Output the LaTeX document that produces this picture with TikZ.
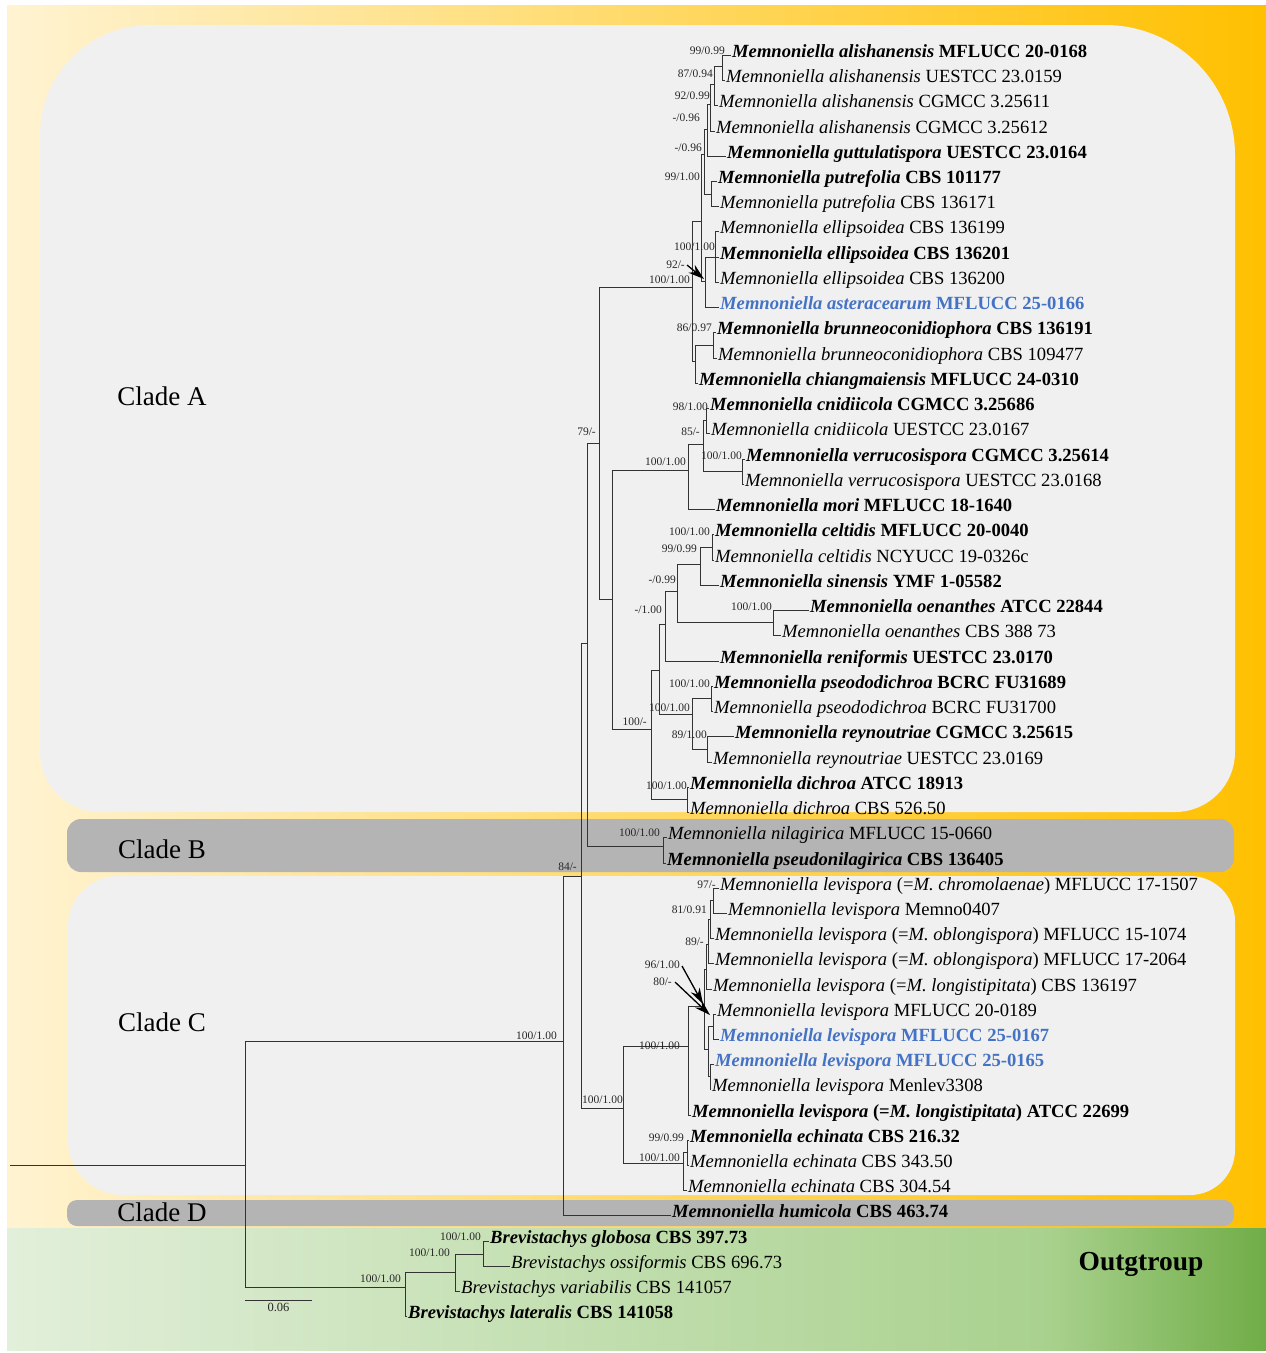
\documentclass[tikz,border=0pt]{standalone}
\usepackage{fontspec}
\setmainfont{Liberation Serif}
\usetikzlibrary{arrows.meta}
\definecolor{ylLeft}{HTML}{FFF3D2}
\definecolor{ylMid}{HTML}{FFE394}
\definecolor{ylRight}{HTML}{FFC000}
\definecolor{grLeft}{HTML}{E2EFDA}
\definecolor{grMid}{HTML}{A9D18E}
\definecolor{grRight}{HTML}{70AD47}
\definecolor{cladeBg}{HTML}{F0F0F0}
\definecolor{cladeBar}{HTML}{B4B4B4}
\definecolor{newTaxon}{HTML}{4472C4}
\newcommand\tx[2]{\textit{#1} #2}
\newcommand\txb[2]{\textbf{\textit{#1} #2}}
\newcommand\txn[2]{\textcolor{newTaxon}{\textbf{\textit{#1} #2}}}
\newcommand\syn[1]{(=\textit{#1})}
\newcommand\Mem{Memnoniella}
\newcommand\Bre{Brevistachys}
\tikzset{
	br/.style={draw=black!80, line width=0.9pt},
	tip/.style={anchor=west, inner sep=1.5pt, yshift=-4pt, text height=0.7em, text depth=0.22em, font=\fontsize{18.6}{20}\selectfont},
	sup/.style={anchor=east, inner sep=0pt, font=\fontsize{11.5}{12}\selectfont, text=black!85},
	cladelabel/.style={font=\fontsize{27}{30}\selectfont},
	supArrow/.style={line width=1.3pt, -{Stealth[length=16pt,width=10pt]}}
}
\begin{document}
\begin{tikzpicture}[x=1pt, y=-1pt]
	\useasboundingbox (0,0) rectangle (1266,1353);
	
	% backgrounds
	\shade[left color=ylLeft, middle color=ylMid, right color=ylRight] (7,5) rectangle (1266,1228);
	\shade[left color=grLeft, right color=grMid] (7,1228) rectangle (1050,1350);
	\shade[left color=grMid, right color=grRight] (1049.5,1228) rectangle (1266,1350);
	\fill[cladeBg] (40,135) arc[start angle=180, end angle=90, radius=110pt] -- (1105,25)
		arc[start angle=90, end angle=0, radius=130pt] -- (1235,752)
		arc[start angle=0, end angle=-90, radius=60pt] -- (100,812)
		arc[start angle=270, end angle=180, radius=60pt] -- cycle;
	\fill[cladeBar, rounded corners=14pt] (67,819) rectangle (1234,872);
	\fill[cladeBg] (68,926) arc[start angle=180, end angle=90, radius=50pt] -- (1190,876)
		arc[start angle=90, end angle=0, radius=45pt] -- (1235,1150)
		arc[start angle=0, end angle=-90, radius=45pt] -- (123,1195)
		arc[start angle=270, end angle=180, radius=55pt] -- cycle;
	\fill[cladeBar, rounded corners=10pt] (67,1200) rectangle (1234,1226);
	
	\node[cladelabel] (cladeA) at (162,396) {Clade A};
	\node[cladelabel] (cladeB) at (162,849) {Clade B};
	\node[cladelabel] (cladeC) at (162,1022) {Clade C};
	\node[cladelabel] (cladeD) at (162,1212) {Clade D};
	\node[cladelabel, font=\fontsize{27.5}{30}\selectfont\bfseries] (outgroup) at (1141,1264) {Outgtroup};
	
	% tips
	\node[tip] (t1) at (730.5,51) {\txb{\Mem\ alishanensis}{MFLUCC 20-0168}};
	\node[tip] (t2) at (724.5,76) {\tx{\Mem\ alishanensis}{UESTCC 23.0159}};
	\node[tip] (t3) at (717.5,101) {\tx{\Mem\ alishanensis}{CGMCC 3.25611}};
	\node[tip] (t4) at (714.5,127) {\tx{\Mem\ alishanensis}{CGMCC 3.25612}};
	\node[tip] (t5) at (725.5,152) {\txb{\Mem\ guttulatispora}{UESTCC 23.0164}};
	\node[tip] (t6) at (716.5,177) {\txb{\Mem\ putrefolia}{CBS 101177}};
	\node[tip] (t7) at (718.5,202) {\tx{\Mem\ putrefolia}{CBS 136171}};
	\node[tip] (t8) at (718.5,227) {\tx{\Mem\ ellipsoidea}{CBS 136199}};
	\node[tip] (t9) at (718.5,253) {\txb{\Mem\ ellipsoidea}{CBS 136201}};
	\node[tip] (t10) at (718.5,278) {\tx{\Mem\ ellipsoidea}{CBS 136200}};
	\node[tip] (t11) at (718.5,303) {\txn{\Mem\ asteracearum}{MFLUCC 25-0166}};
	\node[tip] (t12) at (715.5,328) {\txb{\Mem\ brunneoconidiophora}{CBS 136191}};
	\node[tip] (t13) at (716.5,354) {\tx{\Mem\ brunneoconidiophora}{CBS 109477}};
	\node[tip] (t14) at (697.5,379) {\txb{\Mem\ chiangmaiensis}{MFLUCC 24-0310}};
	\node[tip] (t15) at (708.5,404) {\txb{\Mem\ cnidiicola}{CGMCC 3.25686}};
	\node[tip] (t16) at (709.5,429) {\tx{\Mem\ cnidiicola}{UESTCC 23.0167}};
	\node[tip] (t17) at (744.5,455) {\txb{\Mem\ verrucosispora}{CGMCC 3.25614}};
	\node[tip] (t18) at (743.5,480) {\tx{\Mem\ verrucosispora}{UESTCC 23.0168}};
	\node[tip] (t19) at (714.5,505) {\txb{\Mem\ mori}{MFLUCC 18-1640}};
	\node[tip] (t20) at (713.5,530) {\txb{\Mem\ celtidis}{MFLUCC 20-0040}};
	\node[tip] (t21) at (713.5,556) {\tx{\Mem\ celtidis}{NCYUCC 19-0326c}};
	\node[tip] (t22) at (718.5,581) {\txb{\Mem\ sinensis}{YMF 1-05582}};
	\node[tip] (t23) at (808.5,606) {\txb{\Mem\ oenanthes}{ATCC 22844}};
	\node[tip] (t24) at (780.5,631) {\tx{\Mem\ oenanthes}{CBS 388 73}};
	\node[tip] (t25) at (718.5,657) {\txb{\Mem\ reniformis}{UESTCC 23.0170}};
	\node[tip] (t26) at (712.5,682) {\txb{\Mem\ pseododichroa}{BCRC FU31689}};
	\node[tip] (t27) at (712.5,707) {\tx{\Mem\ pseododichroa}{BCRC FU31700}};
	\node[tip] (t28) at (733.5,732) {\txb{\Mem\ reynoutriae}{CGMCC 3.25615}};
	\node[tip] (t29) at (711.5,758) {\tx{\Mem\ reynoutriae}{UESTCC 23.0169}};
	\node[tip] (t30) at (688.5,783) {\txb{\Mem\ dichroa}{ATCC 18913}};
	\node[tip] (t31) at (688.5,808) {\tx{\Mem\ dichroa}{CBS 526.50}};
	\node[tip] (t32) at (666.5,833) {\tx{\Mem\ nilagirica}{MFLUCC 15-0660}};
	\node[tip] (t33) at (665.5,859) {\txb{\Mem\ pseudonilagirica}{CBS 136405}};
	\node[tip] (t34) at (718.5,884) {\tx{\Mem\ levispora}{\syn{M. chromolaenae} MFLUCC 17-1507}};
	\node[tip] (t35) at (726.5,909) {\tx{\Mem\ levispora}{Memno0407}};
	\node[tip] (t36) at (713.5,934) {\tx{\Mem\ levispora}{\syn{M. oblongispora} MFLUCC 15-1074}};
	\node[tip] (t37) at (713.5,959) {\tx{\Mem\ levispora}{\syn{M. oblongispora} MFLUCC 17-2064}};
	\node[tip] (t38) at (711.5,985) {\tx{\Mem\ levispora}{\syn{M. longistipitata} CBS 136197}};
	\node[tip] (t39) at (715.5,1010) {\tx{\Mem\ levispora}{MFLUCC 20-0189}};
	\node[tip] (t40) at (718.5,1035) {\txn{\Mem\ levispora}{MFLUCC 25-0167}};
	\node[tip] (t41) at (713.5,1060) {\txn{\Mem\ levispora}{MFLUCC 25-0165}};
	\node[tip] (t42) at (710.5,1085) {\tx{\Mem\ levispora}{Menlev3308}};
	\node[tip] (t43) at (690.5,1111) {\txb{\Mem\ levispora}{\syn{M. longistipitata} ATCC 22699}};
	\node[tip] (t44) at (688.5,1136) {\txb{\Mem\ echinata}{CBS 216.32}};
	\node[tip] (t45) at (688.5,1161) {\tx{\Mem\ echinata}{CBS 343.50}};
	\node[tip] (t46) at (686.5,1186) {\tx{\Mem\ echinata}{CBS 304.54}};
	\node[tip] (t47) at (670.5,1211) {\txb{\Mem\ humicola}{CBS 463.74}};
	\node[tip] (t48) at (488.5,1237) {\txb{\Bre\ globosa}{CBS 397.73}};
	\node[tip] (t49) at (509.5,1262) {\tx{\Bre\ ossiformis}{CBS 696.73}};
	\node[tip] (t50) at (459.5,1287) {\tx{\Bre\ variabilis}{CBS 141057}};
	\node[tip] (t51) at (406.5,1312) {\txb{\Bre\ lateralis}{CBS 141058}};
	
	% internal nodes
	\foreach \n/\x/\y in {A1/722/66, A2/714/84, A3/710/104, A4/707/129, P1/711/194, A5/704/154,
		Ne3/715/257, Nel/705/281, T2/701/221, B1/713/345, T3/695/361, T1/692/287,
		Cn/706/420, Ve/742/471, Mi2/703/444, Mi1/688/470, Ce/712/547, CS/700/564,
		Oe/773/622, Lo5/677/591, Lo4/665/624, Pd/711/698, Ry/707/749, Ps/692/714,
		Lo3/659/670, Dc/687/799, Lo2/651/729, Lo1/612/599, N79/599/443, Bn/663/846,
		Nab/587/643, L1/713/900, L2/710/919, L3/708/944, C4/706/969, C6/713/1026,
		C7/710/1076, C5/708/1049, C3/704/1006, C2/688/1046, E2/687/1152, E1/683/1163,
		C1/623/1108, N84/581/876, Mc/563/1041, O3/483/1254, O2/455/1272, Og/405/1287,
		Rt/245/1165, root/10/1165}
		\coordinate (\n) at (\x,\y);
	
	% branches
	\foreach \p/\c in {A1/t1, A1/t2, A2/A1, A2/t3, A3/A2, A3/t4, A4/A3, A4/t5, P1/t6, P1/t7,
		A5/A4, A5/P1, Ne3/t8, Ne3/t9, Ne3/t10, Nel/Ne3, Nel/t11, T2/A5, T2/Nel, B1/t12, B1/t13,
		T3/B1, T3/t14, T1/T2, T1/T3, Cn/t15, Cn/t16, Ve/t17, Ve/t18, Mi2/Cn, Mi2/Ve, Mi1/Mi2,
		Mi1/t19, Ce/t20, Ce/t21, CS/Ce, CS/t22, Oe/t23, Oe/t24, Lo5/CS, Lo5/Oe, Lo4/Lo5,
		Lo4/t25, Pd/t26, Pd/t27, Ry/t28, Ry/t29, Ps/Pd, Ps/Ry, Lo3/Lo4, Lo3/Ps, Dc/t30, Dc/t31,
		Lo2/Lo3, Lo2/Dc, Lo1/Mi1, Lo1/Lo2, N79/T1, N79/Lo1, Bn/t32, Bn/t33, Nab/N79, Nab/Bn,
		L1/t34, L1/t35, L2/L1, L2/t36, L3/L2, L3/t37, C4/L3, C4/t38, C6/t39, C6/t40, C7/t41,
		C7/t42, C5/C6, C5/C7, C3/C4, C3/C5, C2/C3, C2/t43, E2/t44, E2/t45, E1/E2, E1/t46,
		C1/C2, C1/E1, N84/Nab, N84/C1, Mc/N84, Mc/t47, O3/t48, O3/t49, O2/O3, O2/t50,
		Og/O2, Og/t51, Rt/Mc, Rt/Og}
		\draw[br] (\p) |- (\c);
	\draw[br] (root) -- (Rt);
	
	% support values
	\foreach \n/\x/\y/\s in {A1/725/51/99\slash0.99, A2/713/74/87\slash0.94, A3/710/96/92\slash0.99,
		A4/700/118/-\slash0.96, A5/702/148/-\slash0.96, P1/700/177/99\slash1.00,
		Ne3/715/247/100\slash1.00, Nel/685/265/92\slash-, T1/690/280/100\slash1.00,
		B1/712/328/86\slash0.97, N79/596/432/79\slash-, Cn/708/407/98\slash1.00,
		Mi2/700/432/85\slash-, Ve/742/456/100\slash1.00, Mi1/686/462/100\slash1.00,
		Ce/710/532/100\slash1.00, CS/697/549/99\slash0.99, Lo5/676/580/-\slash0.99,
		Oe/772/607/100\slash1.00, Lo4/662/610/-\slash1.00, Pd/710/684/100\slash1.00,
		Ps/690/708/100\slash1.00, Lo2/647/722/100\slash-, Ry/707/735/89\slash1.00,
		Dc/687/786/100\slash1.00, Bn/660/833/100\slash1.00, N84/577/867/84\slash-,
		L1/716/885/97\slash-, L2/707/910/81\slash0.91, L3/704/942/89\slash-,
		C4/680/965/96\slash1.00, C5/672/982/80\slash-, Mc/557/1036/100\slash1.00,
		C2/680/1046/100\slash1.00, C1/623/1100/100\slash1.00, E2/684/1138/99\slash0.99,
		E1/680/1158/100\slash1.00, O3/481/1237/100\slash1.00, O2/450/1253/100\slash1.00,
		Og/401/1279/100\slash1.00}
		\node[sup] (s-\n) at (\x,\y) {\s};
	
	\coordinate (aNel) at (704,279);
	\coordinate (aC4) at (703,1004);
	\coordinate (aC5) at (710,1015);
	\draw[supArrow] ([xshift=2pt]s-Nel.east) -- (aNel);
	\draw[supArrow] ([xshift=2pt,yshift=-1pt]s-C4.east) -- (aC4);
	\draw[supArrow] ([xshift=3pt]s-C5.east) -- (aC5);
	
	% scale bar
	\coordinate (sb1) at (245,1300);
	\coordinate (sb2) at (312,1300);
	\draw[br] (sb1) -- (sb2) node[midway, below=7pt, sup, anchor=center, font=\fontsize{12.5}{13}\selectfont] (sbLabel) {0.06};
\end{tikzpicture}
\end{document}
